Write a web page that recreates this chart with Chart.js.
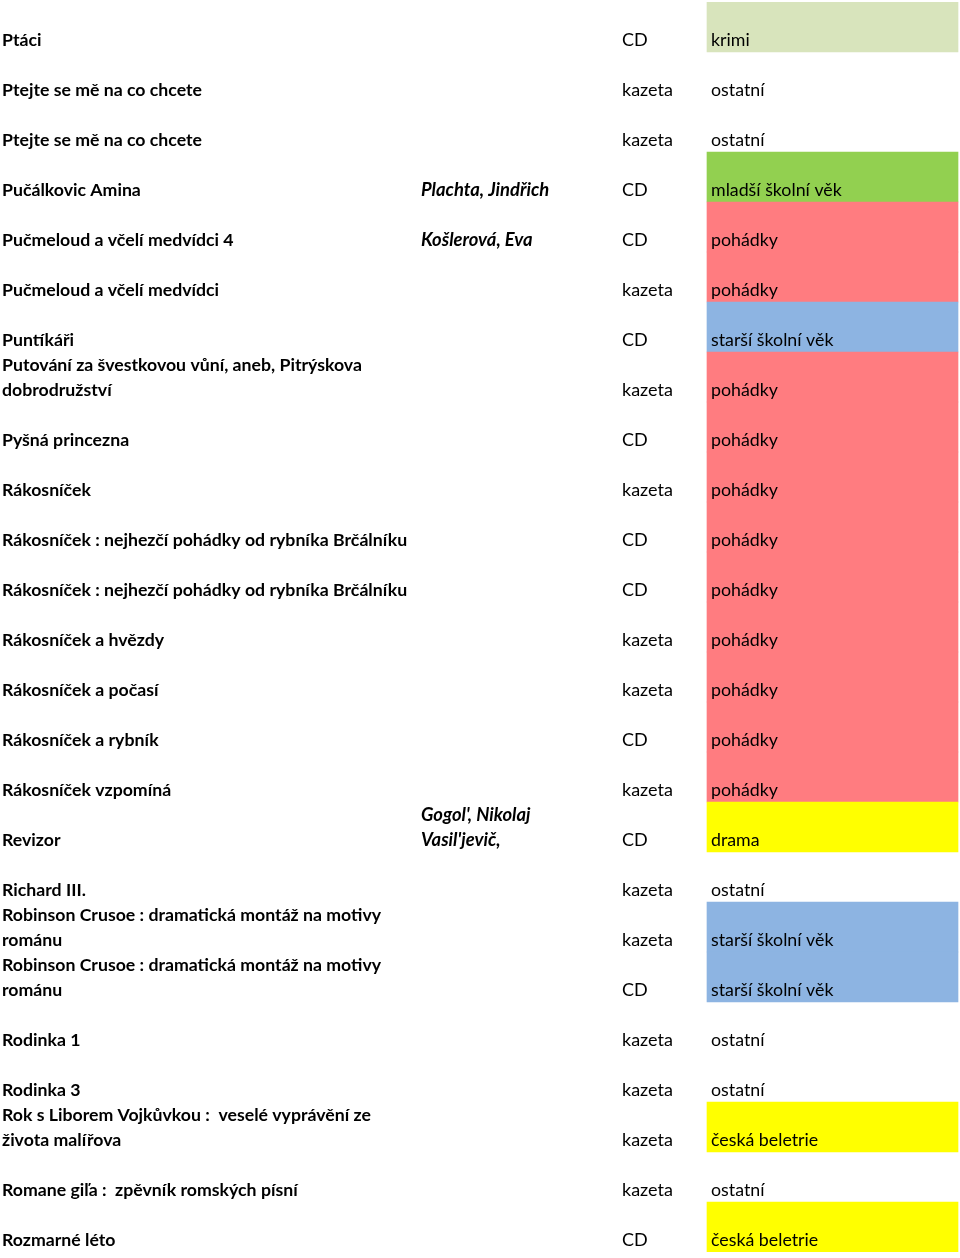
<!DOCTYPE html>
<html>
<head>
<meta charset="utf-8">
<script src="https://cdn.jsdelivr.net/npm/chart.js@4.4.1/dist/chart.umd.min.js"></script>
<style>
  html, body { margin: 0; padding: 0; background: #ffffff; }
  #wrap { position: relative; width: 960px; height: 1258px; }
</style>
</head>
<body>
<div id="wrap"><canvas id="c" width="960" height="1258"></canvas></div>
<script>
// ---- data ----
const titles = [
  "Ptáci",
  "Ptejte se mě na co chcete",
  "Ptejte se mě na co chcete",
  "Pučálkovic Amina",
  "Pučmeloud a včelí medvídci 4",
  "Pučmeloud a včelí medvídci",
  "Puntíkáři",
  ["Putování za švestkovou vůní, aneb, Pitrýskova", "dobrodružství"],
  "Pyšná princezna",
  "Rákosníček",
  "Rákosníček : nejhezčí pohádky od rybníka Brčálníku",
  "Rákosníček : nejhezčí pohádky od rybníka Brčálníku",
  "Rákosníček a hvězdy",
  "Rákosníček a počasí",
  "Rákosníček a rybník",
  "Rákosníček vzpomíná",
  "Revizor",
  "Richard III.",
  ["Robinson Crusoe : dramatická montáž na motivy", "románu"],
  ["Robinson Crusoe : dramatická montáž na motivy", "románu"],
  "Rodinka 1",
  "Rodinka 3",
  ["Rok s Liborem Vojkůvkou :  veselé vyprávění ze", "života malířova"],
  "Romane giľa :  zpěvník romských písní",
  "Rozmarné léto"
];
const authors = [
  "", "", "", "Plachta, Jindřich", "Košlerová, Eva", "", "", "", "", "",
  "", "", "", "", "", "", ["Gogol', Nikolaj", "Vasil'jevič,"], "", "", "",
  "", "", "", "", ""
];
const formats = [
  "CD", "kazeta", "kazeta", "CD", "CD", "kazeta", "CD", "kazeta", "CD", "kazeta",
  "CD", "CD", "kazeta", "kazeta", "CD", "kazeta", "CD", "kazeta", "kazeta", "CD",
  "kazeta", "kazeta", "kazeta", "kazeta", "CD"
];
const genres = [
  "krimi", "ostatní", "ostatní", "mladší školní věk", "pohádky", "pohádky",
  "starší školní věk", "pohádky", "pohádky", "pohádky", "pohádky", "pohádky",
  "pohádky", "pohádky", "pohádky", "pohádky", "drama", "ostatní",
  "starší školní věk", "starší školní věk", "ostatní", "ostatní",
  "česká beletrie", "ostatní", "česká beletrie"
];

// ---- styles / layout ----
const genreColors = {
  "krimi": "#D8E4BC",
  "mladší školní věk": "#92D050",
  "pohádky": "#FF7C80",
  "starší školní věk": "#8DB4E2",
  "drama": "#FFFF00",
  "česká beletrie": "#FFFF00",
  "ostatní": "rgba(0,0,0,0)"
};
const COL = { title: 2, author: 421, format: 622, genre: 711, cellStart: 707, cellEnd: 958 };
const FONT = "Lato, 'Open Sans', sans-serif";
const LINE_H = 25;

const rowLabels = titles.map((t, i) => "r" + i);

const textPlugin = {
  id: 'cellText',
  afterDatasetsDraw(chart) {
    const ctx = chart.ctx;
    const y = chart.scales.y;
    ctx.save();
    ctx.fillStyle = '#000000';
    ctx.textBaseline = 'alphabetic';
    ctx.textAlign = 'left';
    const drawCell = (val, x, bottom, style, size) => {
      if (!val) return;
      const lines = Array.isArray(val) ? val : [val];
      ctx.font = style + ' ' + size + 'px ' + FONT;
      for (let k = 0; k < lines.length; k++) {
        const baseY = bottom - 6 - (lines.length - 1 - k) * LINE_H;
        ctx.fillText(lines[k], x, baseY);
      }
    };
    for (let i = 0; i < titles.length; i++) {
      const center = y.getPixelForValue(i);
      const bottom = center + 25;
      drawCell(titles[i], COL.title, bottom, 'bold', 17.7);
      drawCell(authors[i], COL.author, bottom, 'italic bold', 18.4);
      drawCell(formats[i], COL.format, bottom, 'normal', 18);
      drawCell(genres[i], COL.genre, bottom, 'normal', 17.8);
    }
    ctx.restore();
  }
};

new Chart(document.getElementById('c'), {
  type: 'bar',
  data: {
    labels: rowLabels,
    datasets: [{
      data: genres.map(() => [COL.cellStart, COL.cellEnd]),
      backgroundColor: genres.map(g => genreColors[g]),
      borderWidth: 0,
      barPercentage: 1,
      categoryPercentage: 1
    }]
  },
  options: {
    indexAxis: 'y',
    responsive: false,
    animation: false,
    layout: { padding: { top: 2, bottom: 6, left: 0, right: 0 } },
    plugins: { legend: { display: false }, tooltip: { enabled: false } },
    scales: {
      x: { type: 'linear', min: 0, max: 960, display: false },
      y: { type: 'category', display: false, offset: true, grid: { display: false } }
    }
  },
  plugins: [textPlugin]
});
</script>
</body>
</html>
